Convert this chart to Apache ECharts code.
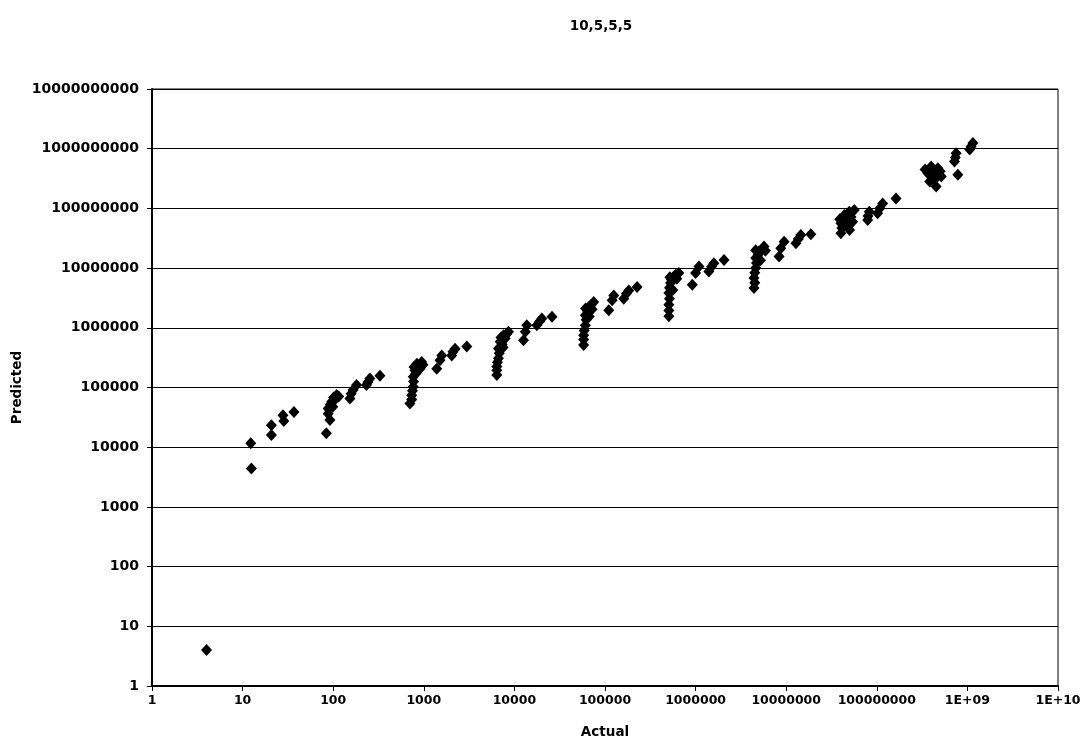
<!DOCTYPE html>
<html>
<head>
<meta charset="utf-8">
<script src="https://cdn.jsdelivr.net/npm/echarts@6/dist/echarts.min.js"></script>
<style>
  html, body { margin: 0; padding: 0; background: #ffffff; }
  #chart { width: 1085px; height: 741px; }
</style>
</head>
<body>
<div id="chart"></div>
<script>
// Titles and tick labels
const chartTitle = '10,5,5,5';
const xAxisTitle = 'Actual';
const yAxisTitle = 'Predicted';
const xTickLabels = ['1', '10', '100', '1000', '10000', '100000', '1000000',
  '10000000', '100000000', '1E+09', '1E+10'];
const yTickLabels = ['1', '10', '100', '1000', '10000', '100000', '1000000',
  '10000000', '100000000', '1000000000', '10000000000'];

// [actual, predicted] pairs, grouped by band of actual size
const bandSingle = [[4, 4]];
const bandTens = [
  [12.3, 11600], [12.5, 4400], [20.8, 23400], [20.8, 16000],
  [27.9, 34200], [28.5, 27500], [36.9, 38700]
];
const bandHundreds = [
  [84, 17100], [92, 28600], [88, 36300], [88, 44700], [99, 47600], [96, 57800],
  [104, 62400], [109, 74700], [93, 52000], [101, 68000], [115, 71000],
  [153, 65600], [158, 78500], [166, 90600], [181, 110000],
  [233, 110000], [242, 124000], [254, 141000],
  [328, 157000]
];
const bandThousands = [
  [703, 54100], [735, 63100], [735, 74400], [750, 88000], [765, 103000], [770, 126000],
  [765, 151000], [820, 171000], [799, 194000], [908, 207000], [869, 235000], [948, 268000],
  [780, 220000], [840, 250000], [980, 240000],
  [1390, 207000], [1510, 285000], [1577, 345000],
  [2036, 345000], [2100, 398000], [2213, 447000],
  [2983, 487000]
];
const bandTenThousands = [
  [6400, 162000], [6400, 194000], [6400, 224000], [6500, 265000], [6670, 308000], [6800, 373000],
  [6670, 452000], [7330, 527000], [6970, 584000], [7900, 664000], [7580, 753000], [8600, 858000],
  [7100, 690000], [8200, 780000], [7500, 470000],
  [12600, 621000], [13200, 858000], [13700, 1100000],
  [17700, 1100000], [19000, 1270000], [20100, 1430000],
  [26000, 1530000]
];
const bandHundredThousands = [
  [58100, 513000], [58100, 638000], [58100, 753000], [59000, 900000], [60700, 1100000],
  [62000, 1370000], [60700, 1620000], [63800, 1940000], [66100, 2240000], [70700, 2440000],
  [75000, 2710000], [67000, 1550000], [61000, 2100000], [72000, 2050000],
  [110000, 1960000], [120000, 2880000], [125000, 3490000],
  [161000, 3080000], [172000, 3730000], [183000, 4230000],
  [226000, 4820000]
];
const bandMillions = [
  [507000, 1560000], [507000, 1940000], [507000, 2440000], [515000, 3080000], [507000, 3830000],
  [515000, 4700000], [529000, 5620000], [542000, 6380000], [575000, 7240000], [603000, 7730000],
  [653000, 8250000], [560000, 4300000], [520000, 7000000], [620000, 6600000],
  [919000, 5270000], [1000000, 8250000], [1090000, 10600000],
  [1400000, 8780000], [1500000, 10500000], [1590000, 12100000],
  [2060000, 13700000]
];
const bandTenMillions = [
  [4410000, 4640000], [4500000, 5690000], [4410000, 6810000], [4500000, 8350000],
  [4610000, 10000000], [4700000, 12200000], [4610000, 14700000], [4900000, 16700000],
  [5010000, 18900000], [5500000, 21000000], [5690000, 22900000],
  [5200000, 13500000], [4600000, 20000000], [5900000, 19500000],
  [8340000, 15600000], [8710000, 21500000], [9480000, 27700000],
  [12800000, 26100000], [13600000, 30800000], [14500000, 35900000],
  [18700000, 36900000]
];
const bandHundredMillions = [
  [40200000, 38300000], [41200000, 47000000], [40200000, 56200000], [45800000, 66400000],
  [43800000, 77300000], [49700000, 87700000], [56400000, 93700000], [52000000, 71600000],
  [50000000, 43500000], [47000000, 52000000], [54000000, 60000000], [39000000, 66000000],
  [79300000, 63800000], [80000000, 74500000], [82600000, 87700000],
  [102000000, 82600000], [108000000, 101000000], [116000000, 121000000],
  [163000000, 147000000]
];
const bandBillions = [
  [366000000, 388000000], [398000000, 503000000], [472000000, 471000000],
  [452000000, 232000000], [515000000, 342000000], [384000000, 282000000],
  [341000000, 447000000], [430000000, 300000000], [500000000, 420000000],
  [420000000, 400000000], [460000000, 380000000], [400000000, 350000000],
  [720000000, 611000000], [751000000, 843000000], [785000000, 365000000], [735000000, 714000000],
  [1100000000, 1090000000], [1150000000, 1240000000], [1060000000, 973000000]
];

const points = [].concat(
  bandSingle, bandTens, bandHundreds, bandThousands, bandTenThousands,
  bandHundredThousands, bandMillions, bandTenMillions, bandHundredMillions, bandBillions
);

const ink = '#000000';
const boldFont = { fontFamily: 'DejaVu Sans', fontWeight: 'bold', color: ink };

function decadeIndex(v) { return Math.round(Math.log10(v)); }

const chart = echarts.init(document.getElementById('chart'), null, { renderer: 'canvas' });
chart.setOption({
  animation: false,
  backgroundColor: '#ffffff',
  title: {
    text: chartTitle,
    left: 596,
    textAlign: 'center',
    top: 14,
    textStyle: Object.assign({ fontSize: 13.5 }, boldFont)
  },
  grid: {
    left: 152, right: 27, top: 89, bottom: 55,
    outerBoundsMode: 'none', containLabel: false,
    show: true, borderColor: ink, borderWidth: 1, backgroundColor: 'transparent'
  },
  xAxis: {
    type: 'log', logBase: 10, min: 1, max: 1e10, interval: 1, splitNumber: 10,
    name: xAxisTitle, nameLocation: 'middle', nameGap: 39, nameMoveOverlap: false,
    nameTextStyle: Object.assign({ fontSize: 13.5 }, boldFont),
    axisLine: { show: true, onZero: false, lineStyle: { color: ink, width: 2 } },
    axisTick: { show: true, inside: false, length: 5, lineStyle: { color: ink, width: 1 } },
    axisLabel: Object.assign({
      fontSize: 12.5, margin: 8,
      formatter: v => xTickLabels[decadeIndex(v)]
    }, boldFont),
    splitLine: { show: false },
    minorTick: { show: false }
  },
  yAxis: {
    type: 'log', logBase: 10, min: 1, max: 1e10, interval: 1, splitNumber: 10,
    name: yAxisTitle, nameLocation: 'middle', nameGap: 128, nameRotate: 90,
    nameMoveOverlap: false,
    nameTextStyle: Object.assign({ fontSize: 13.5 }, boldFont),
    axisLine: { show: true, onZero: false, lineStyle: { color: ink, width: 2 } },
    axisTick: { show: true, inside: false, length: 5, lineStyle: { color: ink, width: 1 } },
    axisLabel: Object.assign({
      fontSize: 14, margin: 13,
      formatter: v => yTickLabels[decadeIndex(v)]
    }, boldFont),
    splitLine: { show: true, lineStyle: { color: ink, width: 1 } },
    minorTick: { show: false }
  },
  series: [{
    type: 'scatter',
    data: points,
    symbol: 'diamond',
    symbolSize: [11, 12],
    itemStyle: { color: ink, opacity: 1 },
    silent: true
  }]
});
</script>
</body>
</html>
